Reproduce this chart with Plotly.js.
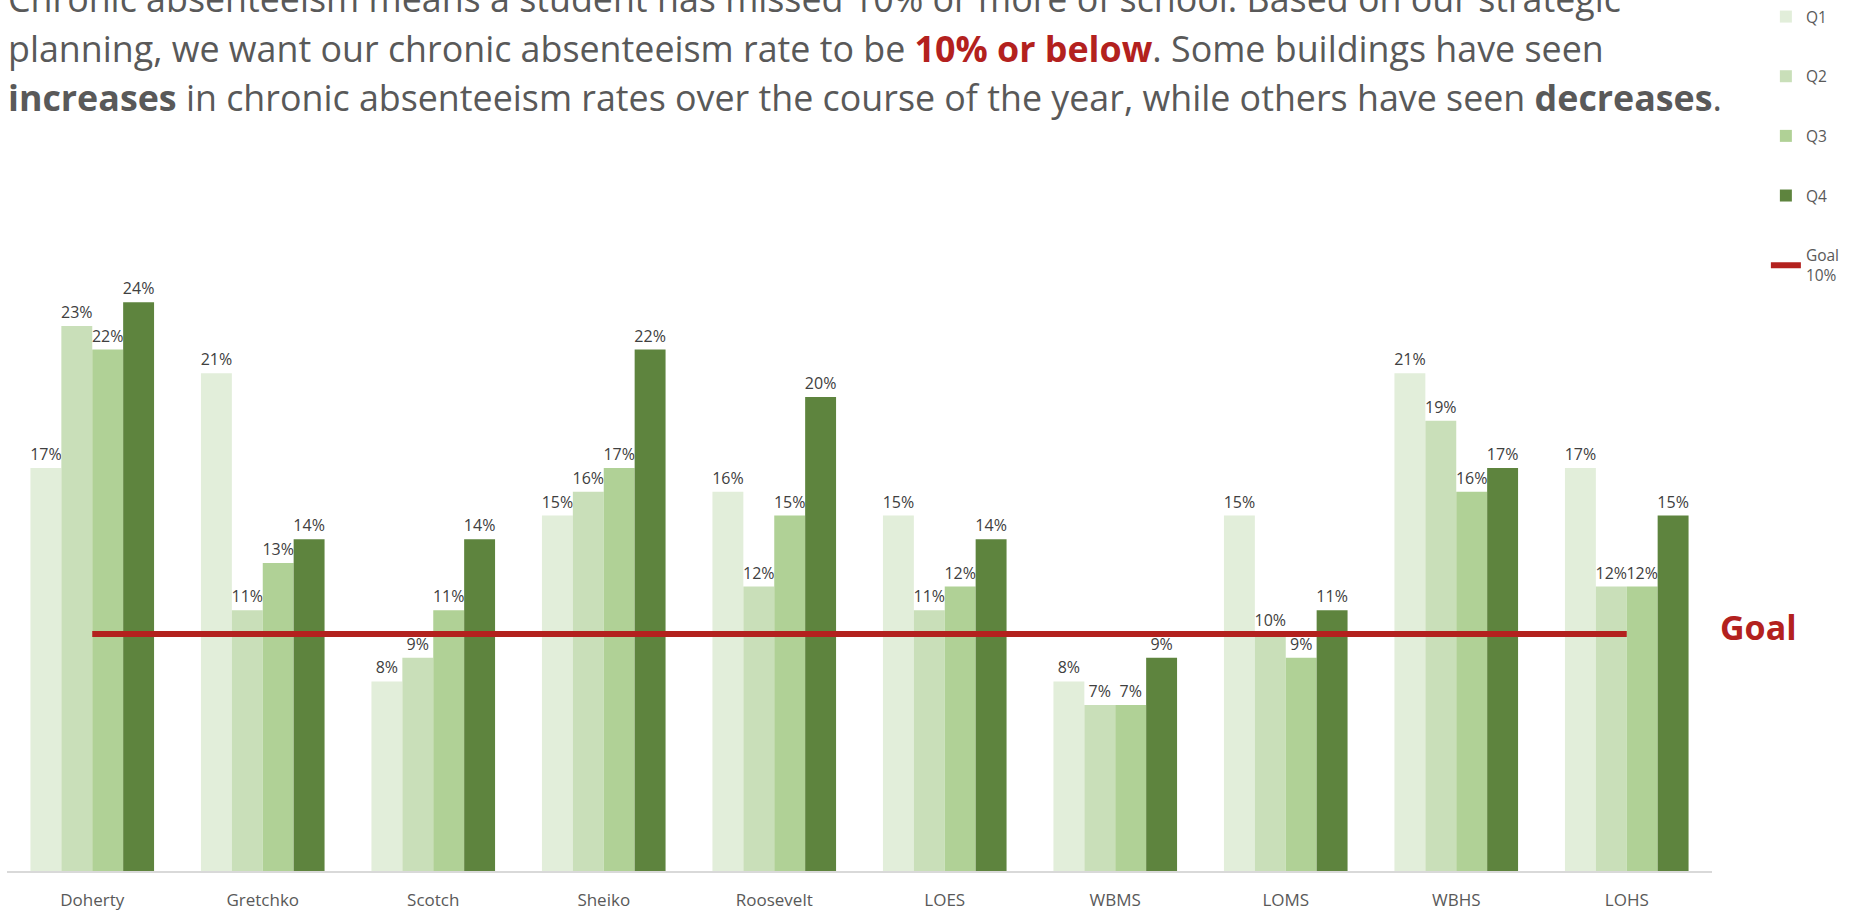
<!DOCTYPE html>
<html>
<head>
<meta charset="utf-8">
<script src="https://cdn.plot.ly/plotly-3.0.1.min.js"></script>
<style>
html, body { margin: 0; padding: 0; background: #ffffff; overflow: hidden; }
#chart { width: 1854px; height: 913px; }
</style>
</head>
<body>
<div id="chart"></div>
<script>
// ---- data ----
const buildings = ["Doherty", "Gretchko", "Scotch", "Sheiko", "Roosevelt", "LOES", "WBMS", "LOMS", "WBHS", "LOHS"];
const q1 = [17, 21, 8, 15, 16, 15, 8, 15, 21, 17];
const q2 = [23, 11, 9, 16, 12, 11, 7, 10, 19, 12];
const q3 = [22, 13, 11, 17, 15, 12, 7, 9, 16, 12];
const q4 = [24, 14, 14, 22, 20, 14, 9, 11, 17, 15];
const goalLine = [10, 10, 10, 10, 10, 10, 10, 10, 10, 10];
const seriesNames = ["Q1", "Q2", "Q3", "Q4"];
const goalName = "Goal<br>10%";
const titleLines = [
  "Chronic absenteeism means a student has missed 10% or more of school. Based on our strategic",
  "planning, we want our chronic absenteeism rate to be <b><span style=\"color:#B3211E\">10% or below</span></b>. Some buildings have seen",
  "<b>increases</b> in chronic absenteeism rates over the course of the year, while others have seen <b>decreases</b>."
];
const goalLabel = "Goal";

// ---- styles ----
const colors = ["#E2EEDA", "#C9DFB9", "#B0D196", "#5E843E"];
const FONT = "Open Sans, Lato, sans-serif";
const series = [q1, q2, q3, q4];

const traces = series.map((vals, i) => ({
  type: "bar",
  name: seriesNames[i],
  legendgroup: "g" + i,
  x: buildings,
  y: vals,
  marker: { color: colors[i], line: { width: 8, color: "rgba(0,0,0,0)" } },
  text: vals.map(v => v + "%"),
  textposition: "outside",
  constraintext: "none",
  cliponaxis: false,
  textfont: { family: FONT, size: 16, color: "#404040" },
  hoverinfo: "x+y+name"
}));

traces.push({
  type: "scatter",
  mode: "lines",
  name: goalName,
  legendgroup: "goal",
  x: buildings,
  y: goalLine,
  line: { color: "#B3211E", width: 6 },
  hoverinfo: "y+name"
});

const plotTop = 160, plotBottom = 871;
const H = plotBottom - plotTop;
function py(px) { return (plotBottom - px) / H; }

const annotations = titleLines.map((t, i) => ({
  text: t,
  xref: "paper", yref: "paper",
  x: -0.0006, y: py(-2 + i * 49.7),
  xanchor: "left", yanchor: "middle",
  align: "left",
  showarrow: false,
  font: { family: FONT, size: 35.8, color: "#595959" }
}));
annotations.push({
  text: "<b>" + goalLabel + "</b>",
  xref: "paper", yref: "paper",
  x: 1.0035, y: py(627),
  xanchor: "left", yanchor: "middle",
  showarrow: false,
  font: { family: FONT, size: 34, color: "#B3211E" }
});

const layout = {
  width: 1854, height: 913,
  margin: { l: 7, r: 142, t: plotTop, b: 913 - plotBottom, pad: 0, autoexpand: false },
  paper_bgcolor: "#ffffff",
  plot_bgcolor: "#ffffff",
  barmode: "group",
  bargap: 0.275,
  bargroupgap: 0,
  showlegend: true,
  legend: {
    x: 1.0316, xref: "paper", xanchor: "left",
    y: 1.0, yref: "container", yanchor: "top",
    font: { family: FONT, size: 15.5, color: "#595959" },
    tracegroupgap: 36.5,
    itemwidth: 30,
    bgcolor: "rgba(0,0,0,0)"
  },
  xaxis: {
    type: "category",
    showline: true, linecolor: "#D9D9D9", linewidth: 2,
    showgrid: false, zeroline: false,
    ticks: "",
    ticklabelstandoff: 13,
    tickfont: { family: FONT, size: 17, color: "#595959" }
  },
  yaxis: {
    range: [0, 30],
    showgrid: false, zeroline: false, showline: false,
    showticklabels: false, ticks: ""
  },
  annotations: annotations,
  font: { family: FONT, color: "#595959" }
};

Plotly.newPlot("chart", traces, layout, { displayModeBar: false, responsive: false });
</script>
</body>
</html>
